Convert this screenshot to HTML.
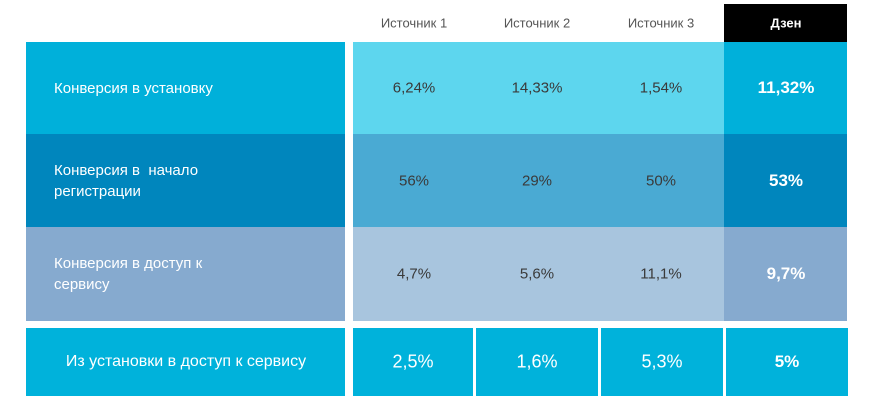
<!DOCTYPE html>
<html><head><meta charset="utf-8"><style>
body{margin:0;width:870px;height:408px;background:#fff;position:relative;overflow:hidden;font-family:"Liberation Sans","Noto Sans CJK SC",sans-serif}
.a{position:absolute;box-sizing:border-box}
.t{position:absolute;transform:translate(-50%,-50%);white-space:nowrap;font-size:15px}
.lbl{position:absolute;color:#fff;font-size:15px;line-height:21px}
</style></head><body>
<div id="root"></div>
<script>
const sources = ['Источник 1','Источник 2','Источник 3'];
const rowLabels = ['Конверсия в установку','Конверсия в&nbsp; начало<br>регистрации','Конверсия в доступ к<br>сервису'];
const sourceValues = [['6,24%','14,33%','1,54%'],['56%','29%','50%'],['4,7%','5,6%','11,1%']];
const dzenValues = ['11,32%','53%','9,7%'];
const bottomLabel = 'Из установки в доступ к сервису';
const bottomValues = ['2,5%','1,6%','5,3%','5%'];

const root=document.getElementById('root');
function box(x,y,w,h,bg){const d=document.createElement('div');d.className='a';d.style.cssText=`left:${x}px;top:${y}px;width:${w}px;height:${h}px;background:${bg}`;root.appendChild(d);return d;}
function txt(x,y,s,color,bold,size){const d=document.createElement('div');d.className='t';d.style.left=x+'px';d.style.top=y+'px';d.style.color=color;if(bold)d.style.fontWeight='bold';if(size)d.style.fontSize=size+'px';d.innerHTML=s;root.appendChild(d);return d;}
const rowY=[42,134,227,321];
const leftC=['#00b0da','#0086bd','#86aacf'];
const srcC=['#5dd6ee','#4aaad3','#a8c5de'];
const colX=[414,537,661];
let h=box(724,4,123,38,'#000');


let ht=txt(786,23,'Дзен','#fff',true,13);


sources.forEach((s,i)=>{const e=txt(colX[i],23,s,'#555',false,13);

});
for(let r=0;r<3;r++){
 const y=rowY[r],hh=rowY[r+1]-y,cy=y+hh/2;
 const l=box(26,y,319,hh,leftC[r]);
 
 
 const lt=document.createElement('div');lt.className='lbl';lt.innerHTML=rowLabels[r];
 lt.style.left='54px';lt.style.top=(cy-(rowLabels[r].includes('<br>')?21:10.5))+'px';
 
 
 root.appendChild(lt);
 const s=box(353,y,371,hh,srcC[r]);
 
 
 const d=box(724,y,123,hh,leftC[r]);
 
 
 sourceValues[r].forEach((v,i)=>{const e=txt(colX[i],cy,v,'#3a3a3a',false,15);
 
 });
 const dv=txt(786,cy,dzenValues[r],'#fff',true,17);
 
 
}
const bx=[[26,345],[353,473],[476,598],[601,723],[726,848]];
bx.forEach((b,i)=>{const e=box(b[0],328,b[1]-b[0],68,'#00b2db');

});
const bl=txt(186,362,bottomLabel,'#fff',false,16);


bottomValues.forEach((v,i)=>{const cx=(bx[i+1][0]+bx[i+1][1])/2;
const e=txt(cx,362,v,'#fff',i===3,i===3?17:18);

});
</script>
</body></html>
